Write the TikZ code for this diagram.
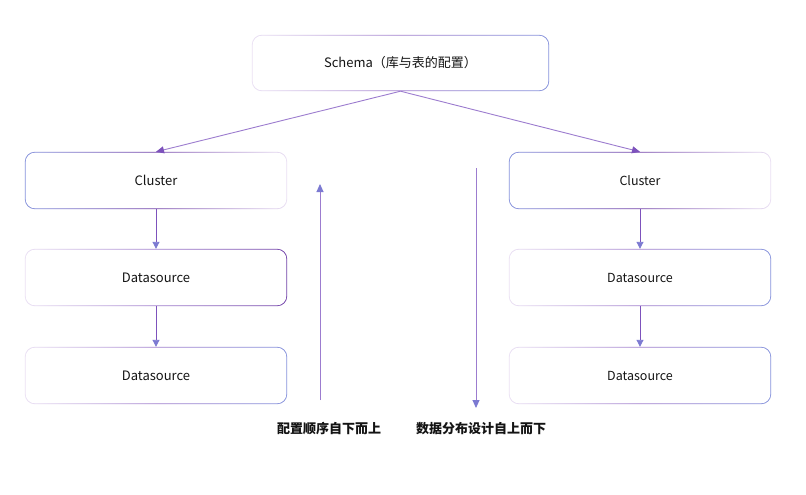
\documentclass[tikz,border=0pt]{standalone}
\usepackage{fontspec}
\setmainfont{Noto Sans CJK SC}
\usetikzlibrary{arrows.meta,backgrounds}
\definecolor{txt}{HTML}{141414}
\definecolor{lnk}{HTML}{7D52BC}
\definecolor{lnkl}{HTML}{9C7CCF}
\definecolor{tipc}{HTML}{7C7AD2}
\definecolor{lite}{HTML}{EBE1F4}
\definecolor{dpur}{HTML}{7040A8}
\definecolor{mpur}{HTML}{A07ECD}
\definecolor{blu}{HTML}{8592DC}
\newcommand\gradframe[4]{%
  \shade[rounded corners=10pt,left color=#2,right color=#4,middle color=#3] (#1.south west) rectangle (#1.north east);
  \fill[white,rounded corners=9.1pt] ([shift={(0.9pt,0.9pt)}]#1.south west) rectangle ([shift={(-0.9pt,-0.9pt)}]#1.north east);}
\begin{document}
\begin{tikzpicture}[x=1pt,y=-1pt,
  box/.style={minimum width=262pt,minimum height=57pt,inner sep=0pt,text=txt,font=\fontsize{13}{15}\selectfont},
  rbox/.style={box,font=\fontsize{12.5}{14}\selectfont},
  conn/.style={draw=lnk,line width=0.9pt,-{Triangle[length=7pt,width=7pt,color=tipc]}},
  diag/.style={draw=lnkl,line width=0.9pt,-{Triangle[length=8pt,width=7pt,color=lnk]}},
  bigarr/.style={draw=lnkl,line width=0.9pt,-{Triangle[length=8pt,width=7pt,color=tipc]}},
  lbl/.style={text=txt,font=\fontsize{13}{15}\selectfont\bfseries,inner sep=0pt}]
\useasboundingbox (0,0) rectangle (806,495);

\node[box,minimum width=297pt,minimum height=56pt] (sch) at (400.5,63) {Schema（库与表的配置）};
\node[box] (lc) at (156,180.5) {Cluster};
\node[box] (ld1) at (156,277.5) {Datasource};
\node[box] (ld2) at (156,375.5) {Datasource};
\node[rbox] (rc) at (640,180.5) {Cluster};
\node[rbox] (rd1) at (640,277.5) {Datasource};
\node[rbox] (rd2) at (640,375.5) {Datasource};

\begin{scope}[on background layer]
\fill[white] (0,0) rectangle (806,495);
\gradframe{sch}{lite}{mpur}{blu}
\gradframe{lc}{blu}{dpur}{lite}
\gradframe{ld1}{lite}{mpur}{dpur}
\gradframe{ld2}{lite}{mpur}{blu}
\gradframe{rc}{blu}{dpur}{lite}
\gradframe{rd1}{lite}{mpur}{blu}
\gradframe{rd2}{lite}{mpur}{blu}
\end{scope}

\draw[diag] (sch.south) -- (lc.north);
\draw[diag] (sch.south) -- (rc.north);
\draw[conn] (lc.south) -- (ld1.north);
\draw[conn] (ld1.south) -- (ld2.north);
\draw[conn] (rc.south) -- (rd1.north);
\draw[conn] (rd1.south) -- (rd2.north);

\coordinate (ua) at (320,400);
\coordinate (ub) at (320,184);
\coordinate (da) at (476,168);
\coordinate (db) at (476,408);
\draw[bigarr] (ua) -- (ub);
\draw[bigarr] (da) -- (db);

\node[lbl] (l1) at (329,429) {配置顺序自下而上};
\node[lbl] (l2) at (481,429) {数据分布设计自上而下};
\end{tikzpicture}
\end{document}
